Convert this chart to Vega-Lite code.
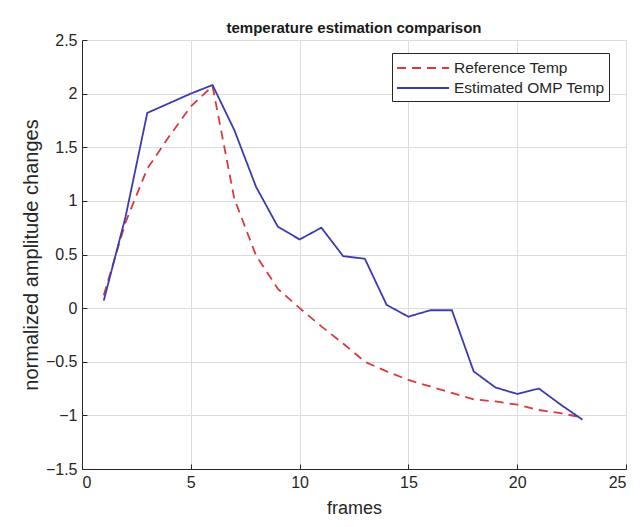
{
  "$schema": "https://vega.github.io/schema/vega-lite/v6.json",
  "width": 544,
  "height": 429,
  "autosize": {"type": "none"},
  "padding": {"left": 82, "top": 40, "right": 18, "bottom": 58},
  "background": "white",
  "title": {
    "text": "temperature estimation comparison",
    "font": "Liberation Sans",
    "fontSize": 15,
    "fontWeight": "bold",
    "color": "#1a1a1a",
    "offset": -4
  },
  "config": {
    "view": {"stroke": "#dcdcdc", "strokeWidth": 1},
    "axis": {
      "labelFont": "Liberation Sans",
      "titleFont": "Liberation Sans",
      "labelFontSize": 16,
      "titleFontWeight": "normal",
      "labelColor": "#262626",
      "titleColor": "#262626",
      "gridColor": "#dcdcdc",
      "gridWidth": 1,
      "domainColor": "#262626",
      "tickColor": "#262626",
      "tickSize": -5,
      "format": "~g"
    }
  },
  "data": {
    "values": [
      {"frame": 1, "series": "Reference Temp", "value": 0.12},
      {"frame": 2, "series": "Reference Temp", "value": 0.8},
      {"frame": 3, "series": "Reference Temp", "value": 1.3},
      {"frame": 4, "series": "Reference Temp", "value": 1.6},
      {"frame": 5, "series": "Reference Temp", "value": 1.88},
      {"frame": 6, "series": "Reference Temp", "value": 2.07},
      {"frame": 7, "series": "Reference Temp", "value": 1.02},
      {"frame": 8, "series": "Reference Temp", "value": 0.49},
      {"frame": 9, "series": "Reference Temp", "value": 0.18},
      {"frame": 10, "series": "Reference Temp", "value": 0.0},
      {"frame": 11, "series": "Reference Temp", "value": -0.17},
      {"frame": 12, "series": "Reference Temp", "value": -0.33},
      {"frame": 13, "series": "Reference Temp", "value": -0.5},
      {"frame": 14, "series": "Reference Temp", "value": -0.59},
      {"frame": 15, "series": "Reference Temp", "value": -0.67},
      {"frame": 16, "series": "Reference Temp", "value": -0.73},
      {"frame": 17, "series": "Reference Temp", "value": -0.79},
      {"frame": 18, "series": "Reference Temp", "value": -0.85},
      {"frame": 19, "series": "Reference Temp", "value": -0.87},
      {"frame": 20, "series": "Reference Temp", "value": -0.9},
      {"frame": 21, "series": "Reference Temp", "value": -0.95},
      {"frame": 22, "series": "Reference Temp", "value": -0.98},
      {"frame": 23, "series": "Reference Temp", "value": -1.02},
      {"frame": 1, "series": "Estimated OMP Temp", "value": 0.07},
      {"frame": 2, "series": "Estimated OMP Temp", "value": 0.85},
      {"frame": 3, "series": "Estimated OMP Temp", "value": 1.82},
      {"frame": 4, "series": "Estimated OMP Temp", "value": 1.91},
      {"frame": 5, "series": "Estimated OMP Temp", "value": 2.0},
      {"frame": 6, "series": "Estimated OMP Temp", "value": 2.08},
      {"frame": 7, "series": "Estimated OMP Temp", "value": 1.66},
      {"frame": 8, "series": "Estimated OMP Temp", "value": 1.13},
      {"frame": 9, "series": "Estimated OMP Temp", "value": 0.76},
      {"frame": 10, "series": "Estimated OMP Temp", "value": 0.64},
      {"frame": 11, "series": "Estimated OMP Temp", "value": 0.75},
      {"frame": 12, "series": "Estimated OMP Temp", "value": 0.485},
      {"frame": 13, "series": "Estimated OMP Temp", "value": 0.46},
      {"frame": 14, "series": "Estimated OMP Temp", "value": 0.03},
      {"frame": 15, "series": "Estimated OMP Temp", "value": -0.08},
      {"frame": 16, "series": "Estimated OMP Temp", "value": -0.02},
      {"frame": 17, "series": "Estimated OMP Temp", "value": -0.02},
      {"frame": 18, "series": "Estimated OMP Temp", "value": -0.59},
      {"frame": 19, "series": "Estimated OMP Temp", "value": -0.74},
      {"frame": 20, "series": "Estimated OMP Temp", "value": -0.8},
      {"frame": 21, "series": "Estimated OMP Temp", "value": -0.75},
      {"frame": 22, "series": "Estimated OMP Temp", "value": -0.9},
      {"frame": 23, "series": "Estimated OMP Temp", "value": -1.04}
    ]
  },
  "mark": {"type": "line", "strokeWidth": 1.8},
  "encoding": {
    "x": {
      "field": "frame",
      "type": "quantitative",
      "scale": {"domain": [0, 25], "nice": false, "zero": false},
      "axis": {"values": [0, 5, 10, 15, 20, 25], "title": "frames", "titleFontSize": 18, "labelPadding": 10, "titlePadding": 9}
    },
    "y": {
      "field": "value",
      "type": "quantitative",
      "scale": {"domain": [-1.5, 2.5], "nice": false, "zero": false},
      "axis": {"values": [-1.5, -1, -0.5, 0, 0.5, 1, 1.5, 2, 2.5], "title": "normalized amplitude  changes", "titleFontSize": 20, "labelPadding": 10, "titlePadding": 4}
    },
    "color": {
      "field": "series",
      "type": "nominal",
      "scale": {"domain": ["Reference Temp", "Estimated OMP Temp"], "range": ["#d93a40", "#3c3cb0"]},
      "legend": {
        "title": null,
        "orient": "none",
        "legendX": 310,
        "legendY": 13,
        "strokeColor": "#262626",
        "fillColor": "white",
        "padding": 4,
        "symbolType": "M-2.6,0H2.6",
        "symbolSize": 400,
        "symbolOffset": 16,
        "symbolStrokeWidth": 1.8,
        "labelFont": "Liberation Sans",
        "labelFontSize": 15.5,
        "labelColor": "#262626",
        "labelOffset": 20,
        "rowPadding": 0
      }
    },
    "strokeDash": {
      "field": "series",
      "type": "nominal",
      "scale": {"domain": ["Reference Temp", "Estimated OMP Temp"], "range": [[9, 6], [1, 0]]},
      "legend": {
        "title": null,
        "orient": "none",
        "legendX": 310,
        "legendY": 13,
        "strokeColor": "#262626",
        "fillColor": "white",
        "padding": 4,
        "symbolType": "M-2.6,0H2.6",
        "symbolSize": 400,
        "symbolOffset": 16,
        "symbolStrokeWidth": 1.8,
        "labelFont": "Liberation Sans",
        "labelFontSize": 15.5,
        "labelColor": "#262626",
        "labelOffset": 20,
        "rowPadding": 0
      }
    }
  }
}
